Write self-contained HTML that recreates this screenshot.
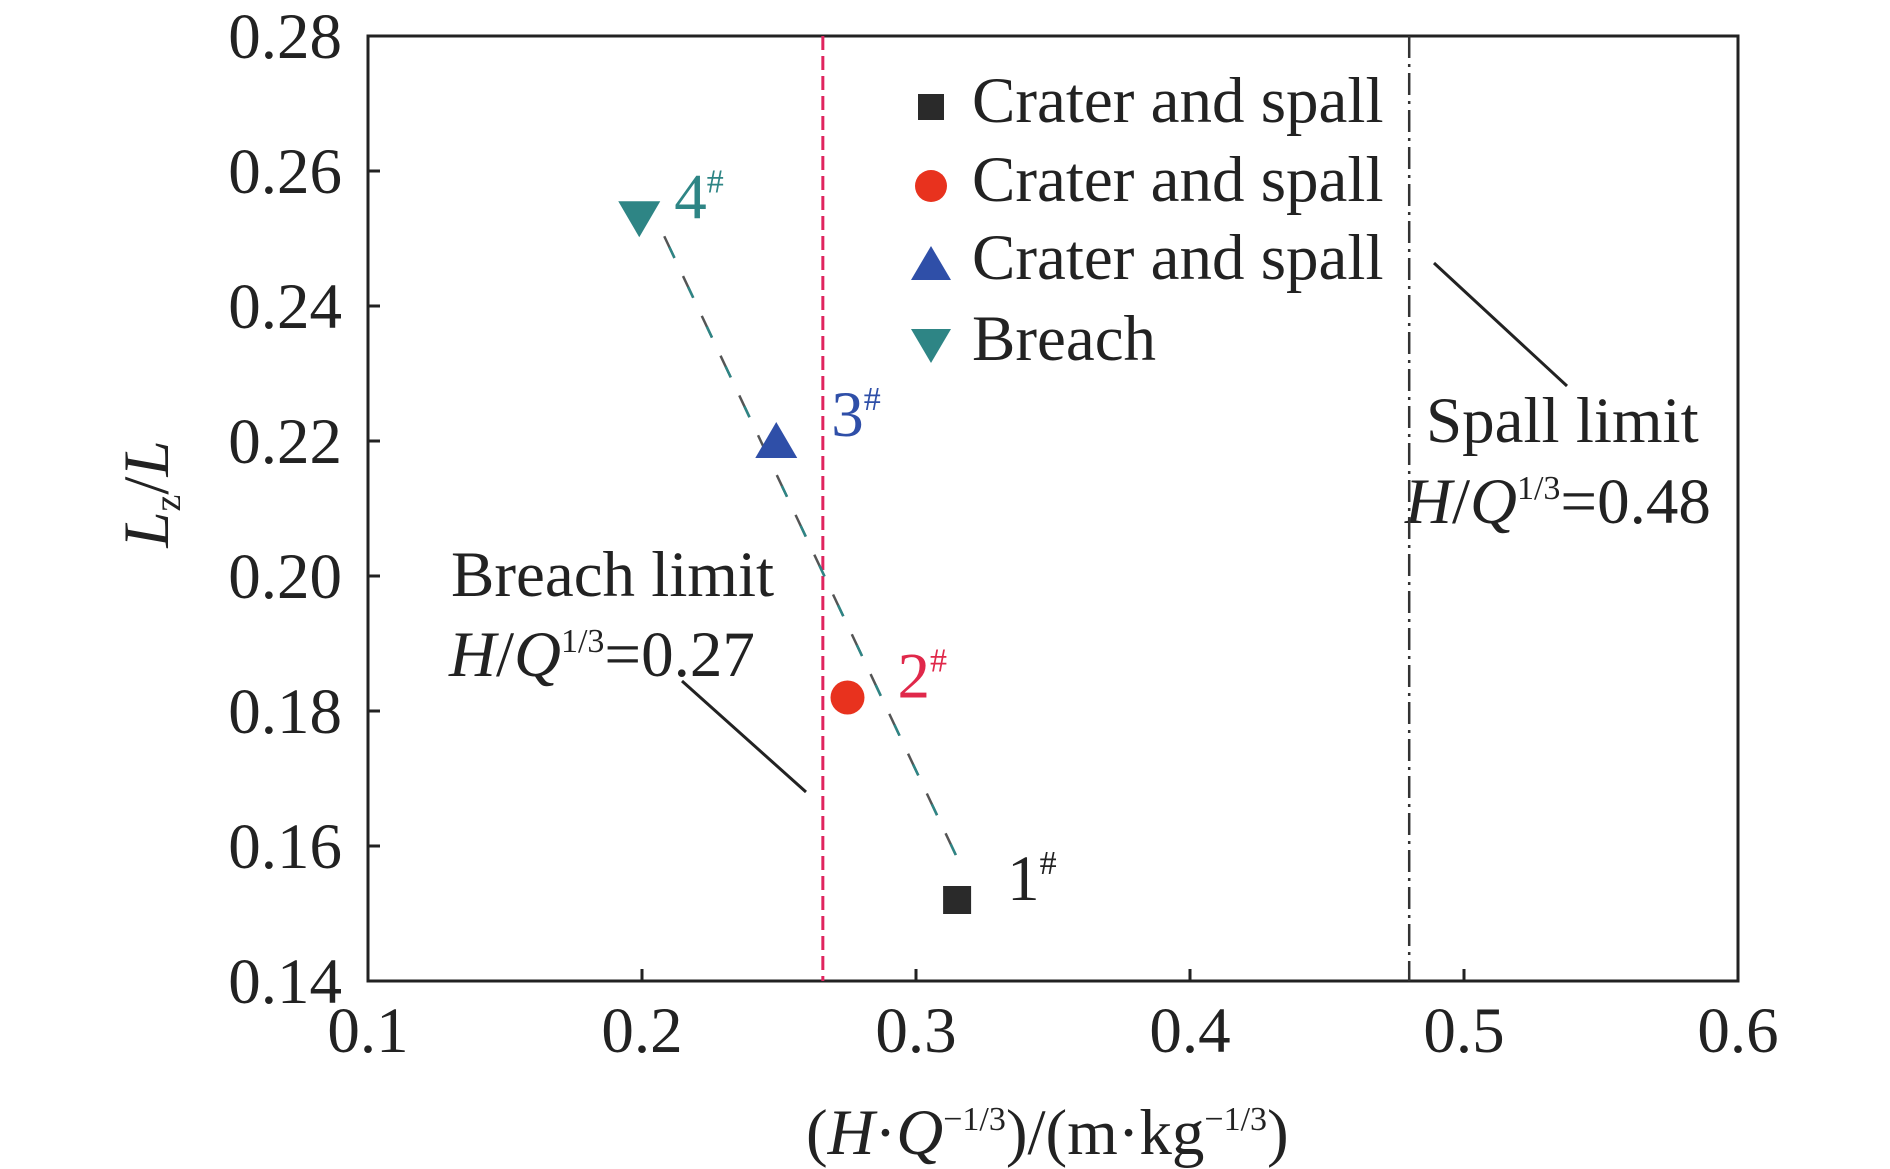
<!DOCTYPE html>
<html><head><meta charset="utf-8"><style>
body{margin:0;background:#fff}
svg{display:block;font-family:"Liberation Serif",serif}
</style></head><body>
<svg id="chart" width="1890" height="1169" viewBox="0 0 1890 1169">
<g id="axes"></g>
<g id="marks"></g>
</svg>
<script>
const xTicks=[0.1,0.2,0.3,0.4,0.5,0.6];
const yTicks=[0.14,0.16,0.18,0.20,0.22,0.24,0.26,0.28];
const pointX=[0.315,0.275,0.249,0.199];
const pointY=[0.152,0.182,0.220,0.253];
const pointLabels=["1","2","3","4"];
const legendLabels=["Crater and spall","Crater and spall","Crater and spall","Breach"];
const breachLimit=0.266, spallLimit=0.48;
const L=368,R=1738,T=36,B=981;
const FS=65;
const sx=v=>L+(v-0.1)/0.5*(R-L);
const sy=v=>B-(v-0.14)/0.14*(B-T);
const NS="http://www.w3.org/2000/svg";
function mk(p,tag,at,txt){const e=document.createElementNS(NS,tag);for(const k in at)e.setAttribute(k,at[k]);if(txt!==undefined)e.textContent=txt;p.appendChild(e);return e;}
const ax=document.getElementById('axes'),mg=document.getElementById('marks');
const colors=["#2a2a2a","#e8321e","#2f4fa8","#2e8585"];
const lblColors=["#222","#e0284a","#2f4fa8","#2e8585"];
let e=mk(mg,'line',{x1:sx(breachLimit),x2:sx(breachLimit),y1:T,y2:B,stroke:"#e0245e","stroke-width":3,"stroke-dasharray":"14 6"});


e=mk(mg,'line',{x1:sx(spallLimit),x2:sx(spallLimit),y1:T,y2:B,stroke:"#333","stroke-width":2.5,"stroke-dasharray":"22 6 3 6"});


const tx1=sx(pointX[3])+25,ty1=sy(pointY[3])+18,tx2=sx(pointX[0])+2,ty2=sy(pointY[0])-38;
e=mk(mg,'line',{x1:tx1,y1:ty1,x2:tx2,y2:ty2,stroke:"#555","stroke-width":2.5,"stroke-dasharray":"24 20"});


e=mk(mg,'line',{x1:tx1,y1:ty1,x2:tx2,y2:ty2,stroke:"#2e8585","stroke-width":2.5,"stroke-dasharray":"12 32","stroke-dashoffset":"-12"});


e=mk(ax,'rect',{x:L,y:T,width:R-L,height:B-T,fill:"none",stroke:"#222","stroke-width":3});


xTicks.forEach(v=>{
 let t=mk(ax,'line',{x1:sx(v),x2:sx(v),y1:B,y2:B-12,stroke:"#222","stroke-width":3});
 
 
 t=mk(ax,'text',{x:sx(v),y:1052,"font-size":FS,"text-anchor":"middle",fill:"#222"},v.toFixed(1));
 
 
});
yTicks.forEach(v=>{
 let t=mk(ax,'line',{x1:L,x2:L+12,y1:sy(v),y2:sy(v),stroke:"#222","stroke-width":3});
 
 
 t=mk(ax,'text',{x:342,y:sy(v)+22,"font-size":FS,"text-anchor":"end",fill:"#222"},v.toFixed(2));
 
 
});
function marker(g,i,cx,cy,s){
 let m;
 if(i===0)m=mk(g,'rect',{x:cx-s,y:cy-s,width:2*s,height:2*s,fill:colors[0]});
 else if(i===1)m=mk(g,'circle',{cx:cx,cy:cy,r:s+3,fill:colors[1]});
 else if(i===2)m=mk(g,'polygon',{points:`${cx},${cy-s-5} ${cx-s-7},${cy+s+3} ${cx+s+7},${cy+s+3}`,fill:colors[2]});
 else m=mk(g,'polygon',{points:`${cx},${cy+s+5} ${cx-s-7},${cy-s-3} ${cx+s+7},${cy-s-3}`,fill:colors[3]});
 return m;
}
const offs=[[50,0],[50,0],[55,-5],[35,0]];
pointX.forEach((v,i)=>{
 const cx=sx(v),cy=sy(pointY[i]);
 let m=marker(mg,i,cx,cy,14);
 
 
 let t=mk(mg,'text',{x:cx+offs[i][0],y:cy+offs[i][1],"font-size":FS,fill:lblColors[i]});
 
 
 t.textContent=pointLabels[i];
 mk(t,'tspan',{"font-size":34,dy:-26},"#");
});
const legY=[102,181,259,340];
legendLabels.forEach((s,i)=>{
 let m=marker(mg,i,931,legY[i]+5,13);
 
 
 let t=mk(mg,'text',{x:972,y:legY[i]+20,"font-size":FS,fill:"#222"},s);
 
 
});
function anno(x,y,name,lines){
 const t=mk(ax,'text',{x:x,y:y,"font-size":FS,fill:"#222"});
 
 
 t.innerHTML=lines;
}
anno(451,596,'breach-limit-label','Breach limit');
anno(449,676,'breach-limit-value','<tspan font-style="italic">H</tspan>/<tspan font-style="italic">Q</tspan><tspan font-size="34" dy="-24">1/3</tspan><tspan dy="24">=0.27</tspan>');
anno(1426,442,'spall-limit-label','Spall limit');
anno(1405,523,'spall-limit-value','<tspan font-style="italic">H</tspan>/<tspan font-style="italic">Q</tspan><tspan font-size="34" dy="-24">1/3</tspan><tspan dy="24">=0.48</tspan>');
e=mk(ax,'line',{x1:682,y1:681,x2:806,y2:792,stroke:"#222","stroke-width":3});


e=mk(ax,'line',{x1:1434,y1:263,x2:1567,y2:386,stroke:"#222","stroke-width":3});


anno(806,1154,'x-axis-title','(<tspan font-style="italic">H</tspan>·<tspan font-style="italic">Q</tspan><tspan font-size="34" dy="-24">−1/3</tspan><tspan dy="24">)/(m·kg</tspan><tspan font-size="34" dy="-24">−1/3</tspan><tspan dy="24">)</tspan>');
const yt=mk(ax,'text',{x:0,y:0,"font-size":FS,fill:"#222","text-anchor":"middle",transform:"translate(168,494) rotate(-90)"});


yt.innerHTML='<tspan font-style="italic">L</tspan><tspan font-size="38" dy="12">z</tspan><tspan dy="-12">/</tspan><tspan font-style="italic">L</tspan>';
</script>
</body></html>
